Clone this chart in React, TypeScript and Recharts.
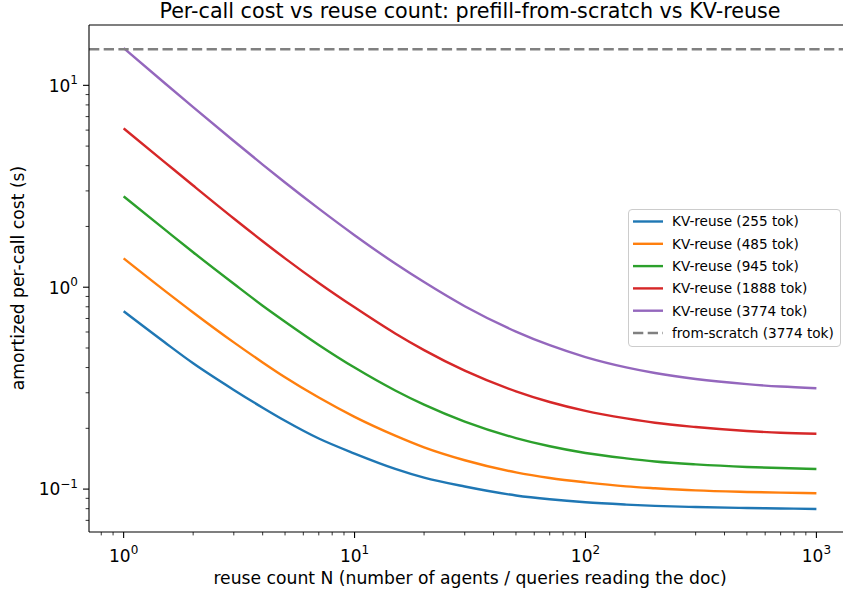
import { LineChart, Line, XAxis, YAxis, ReferenceLine } from 'recharts';

const FONT = '"DejaVu Sans", sans-serif';

// reuse count N
const nValues = [1, 1.5, 2, 3, 4, 5, 7, 10, 15, 20, 30, 50, 70, 100, 150, 200, 300, 500, 700, 1000];

// amortized per-call cost (s)
const kv255 = [0.76, 0.535, 0.42, 0.31, 0.253, 0.218, 0.178, 0.15, 0.126, 0.114, 0.103, 0.093, 0.089, 0.086, 0.0838, 0.0826, 0.0815, 0.0806, 0.0802, 0.0797];
const kv485 = [1.39, 0.965, 0.75, 0.533, 0.424, 0.358, 0.284, 0.228, 0.184, 0.161, 0.139, 0.121, 0.1135, 0.108, 0.1032, 0.101, 0.0985, 0.0968, 0.096, 0.0954];
const kv945 = [2.82, 1.94, 1.49, 1.04, 0.81, 0.675, 0.518, 0.4, 0.308, 0.262, 0.216, 0.179, 0.163, 0.151, 0.142, 0.137, 0.1325, 0.1287, 0.1271, 0.1258];
const kv1888 = [6.12, 4.18, 3.19, 2.19, 1.69, 1.39, 1.05, 0.795, 0.59, 0.488, 0.386, 0.305, 0.27, 0.244, 0.224, 0.213, 0.203, 0.194, 0.19, 0.188];
const kv3774 = [15.3, 10.3, 7.8, 5.3, 4.05, 3.3, 2.45, 1.81, 1.31, 1.06, 0.805, 0.603, 0.516, 0.451, 0.401, 0.376, 0.351, 0.331, 0.322, 0.316];
const fromScratch = 15.1;

const xTicks = [0.8, 0.9, 1, 2, 3, 4, 5, 6, 7, 8, 9, 10, 20, 30, 40, 50, 60, 70, 80, 90, 100, 200, 300, 400, 500, 600, 700, 800, 900, 1000];
const yTicks = [0.07, 0.08, 0.09, 0.1, 0.2, 0.3, 0.4, 0.5, 0.6, 0.7, 0.8, 0.9, 1, 2, 3, 4, 5, 6, 7, 8, 9, 10];
const majors = [0.1, 1, 10, 100, 1000];

const xDomain = [0.708, 1412];
const yDomain = [0.0613, 19.9];

const series = [
  { key: 'kv255', name: 'KV-reuse (255 tok)', color: '#1f77b4', values: kv255 },
  { key: 'kv485', name: 'KV-reuse (485 tok)', color: '#ff7f0e', values: kv485 },
  { key: 'kv945', name: 'KV-reuse (945 tok)', color: '#2ca02c', values: kv945 },
  { key: 'kv1888', name: 'KV-reuse (1888 tok)', color: '#d62728', values: kv1888 },
  { key: 'kv3774', name: 'KV-reuse (3774 tok)', color: '#9467bd', values: kv3774 },
];

const rows = nValues.map((n, i) => {
  const row: Record<string, number> = { n };
  series.forEach((s) => (row[s.key] = s.values[i]));
  return row;
});

const isMajor = (v: number) => majors.some((m) => Math.abs(m - v) < 1e-9);
const expText = (v: number) => {
  const e = Math.round(Math.log10(v));
  return e < 0 ? '\u2212' + Math.abs(e) : String(e);
};

function XTick(props: any) {
  const { x, y, payload } = props;
  const major = isMajor(payload.value);
  return (
    <g>
      <line x1={x} x2={x} y1={y} y2={y + (major ? 6 : 3.4)} stroke="#000" strokeWidth={major ? 1.1 : 0.8} />
      {major && (
        <text x={x} y={y + 29.5} textAnchor="middle" fontSize={17} fontFamily={FONT} fill="#000">
          10<tspan dy={-7.8} fontSize={12}>{expText(payload.value)}</tspan>
        </text>
      )}
    </g>
  );
}

function YTick(props: any) {
  const { x, y, payload } = props;
  const major = isMajor(payload.value);
  return (
    <g>
      <line x1={x} x2={x - (major ? 6 : 3.4)} y1={y} y2={y} stroke="#000" strokeWidth={major ? 1.1 : 0.8} />
      {major && (
        <text x={x - 11} y={y + 6.3} textAnchor="end" fontSize={17} fontFamily={FONT} fill="#000">
          10<tspan dy={-7.8} fontSize={12}>{expText(payload.value)}</tspan>
        </text>
      )}
    </g>
  );
}

const legendItems = [
  ...series.map((s) => ({ name: s.name, color: s.color, dashed: false })),
  { name: 'from-scratch (3774 tok)', color: '#808080', dashed: true },
];

export default function App() {
  return (
    <div style={{ position: 'fixed', left: 0, top: 0, width: 843, height: 594, overflow: 'hidden', background: '#fff' }}>
      <LineChart width={860} height={594} data={rows} margin={{ top: 25, right: 9, bottom: 0, left: 0 }}>
        <XAxis
          dataKey="n"
          type="number"
          scale="log"
          domain={xDomain}
          allowDataOverflow
          ticks={xTicks}
          interval={0}
          tick={XTick}
          tickLine={false}
          tickSize={0}
          tickMargin={0}
          height={62}
          axisLine={{ stroke: '#000', strokeWidth: 1.1 }}
        />
        <YAxis
          type="number"
          scale="log"
          domain={yDomain}
          allowDataOverflow
          ticks={yTicks}
          interval={0}
          tick={YTick}
          tickLine={false}
          tickSize={0}
          tickMargin={0}
          width={89}
          axisLine={{ stroke: '#000', strokeWidth: 1.1 }}
        />
        <ReferenceLine y={yDomain[1]} stroke="#000" strokeWidth={1.1} ifOverflow="visible" />
        {series.map((s) => (
          <Line
            key={s.key}
            dataKey={s.key}
            name={s.name}
            type="monotone"
            stroke={s.color}
            strokeWidth={2.4}
            dot={false}
            isAnimationActive={false}
          />
        ))}
        <ReferenceLine y={fromScratch} stroke="#808080" strokeWidth={2.4} strokeDasharray="10.3 4.4" ifOverflow="visible" />
      </LineChart>
      <svg width={843} height={594} style={{ position: 'absolute', left: 0, top: 0, pointerEvents: 'none' }}>
        <text x={470} y={17.5} textAnchor="middle" fontSize={20.7} fontFamily={FONT} fill="#000">
          Per-call cost vs reuse count: prefill-from-scratch vs KV-reuse
        </text>
        <text x={470} y={583.5} textAnchor="middle" fontSize={17.2} fontFamily={FONT} fill="#000">
          reuse count N (number of agents / queries reading the doc)
        </text>
        <text x={24} y={278} textAnchor="middle" fontSize={17.2} fontFamily={FONT} fill="#000" transform="rotate(-90 24 278)">
          amortized per-call cost (s)
        </text>
        <rect x={628.5} y={209.5} width={212} height={137} rx={3.5} fill="#fff" fillOpacity={0.8} stroke="#cccccc" strokeWidth={1} />
        {legendItems.map((it, i) => {
          const cy = 221.5 + i * 22.3;
          return (
            <g key={it.name}>
              <line
                x1={633}
                x2={663}
                y1={cy}
                y2={cy}
                stroke={it.color}
                strokeWidth={2.4}
                strokeDasharray={it.dashed ? '10.3 4.4' : undefined}
              />
              <text x={672} y={cy + 4.9} fontSize={13.6} fontFamily={FONT} fill="#000">
                {it.name}
              </text>
            </g>
          );
        })}
      </svg>
    </div>
  );
}
